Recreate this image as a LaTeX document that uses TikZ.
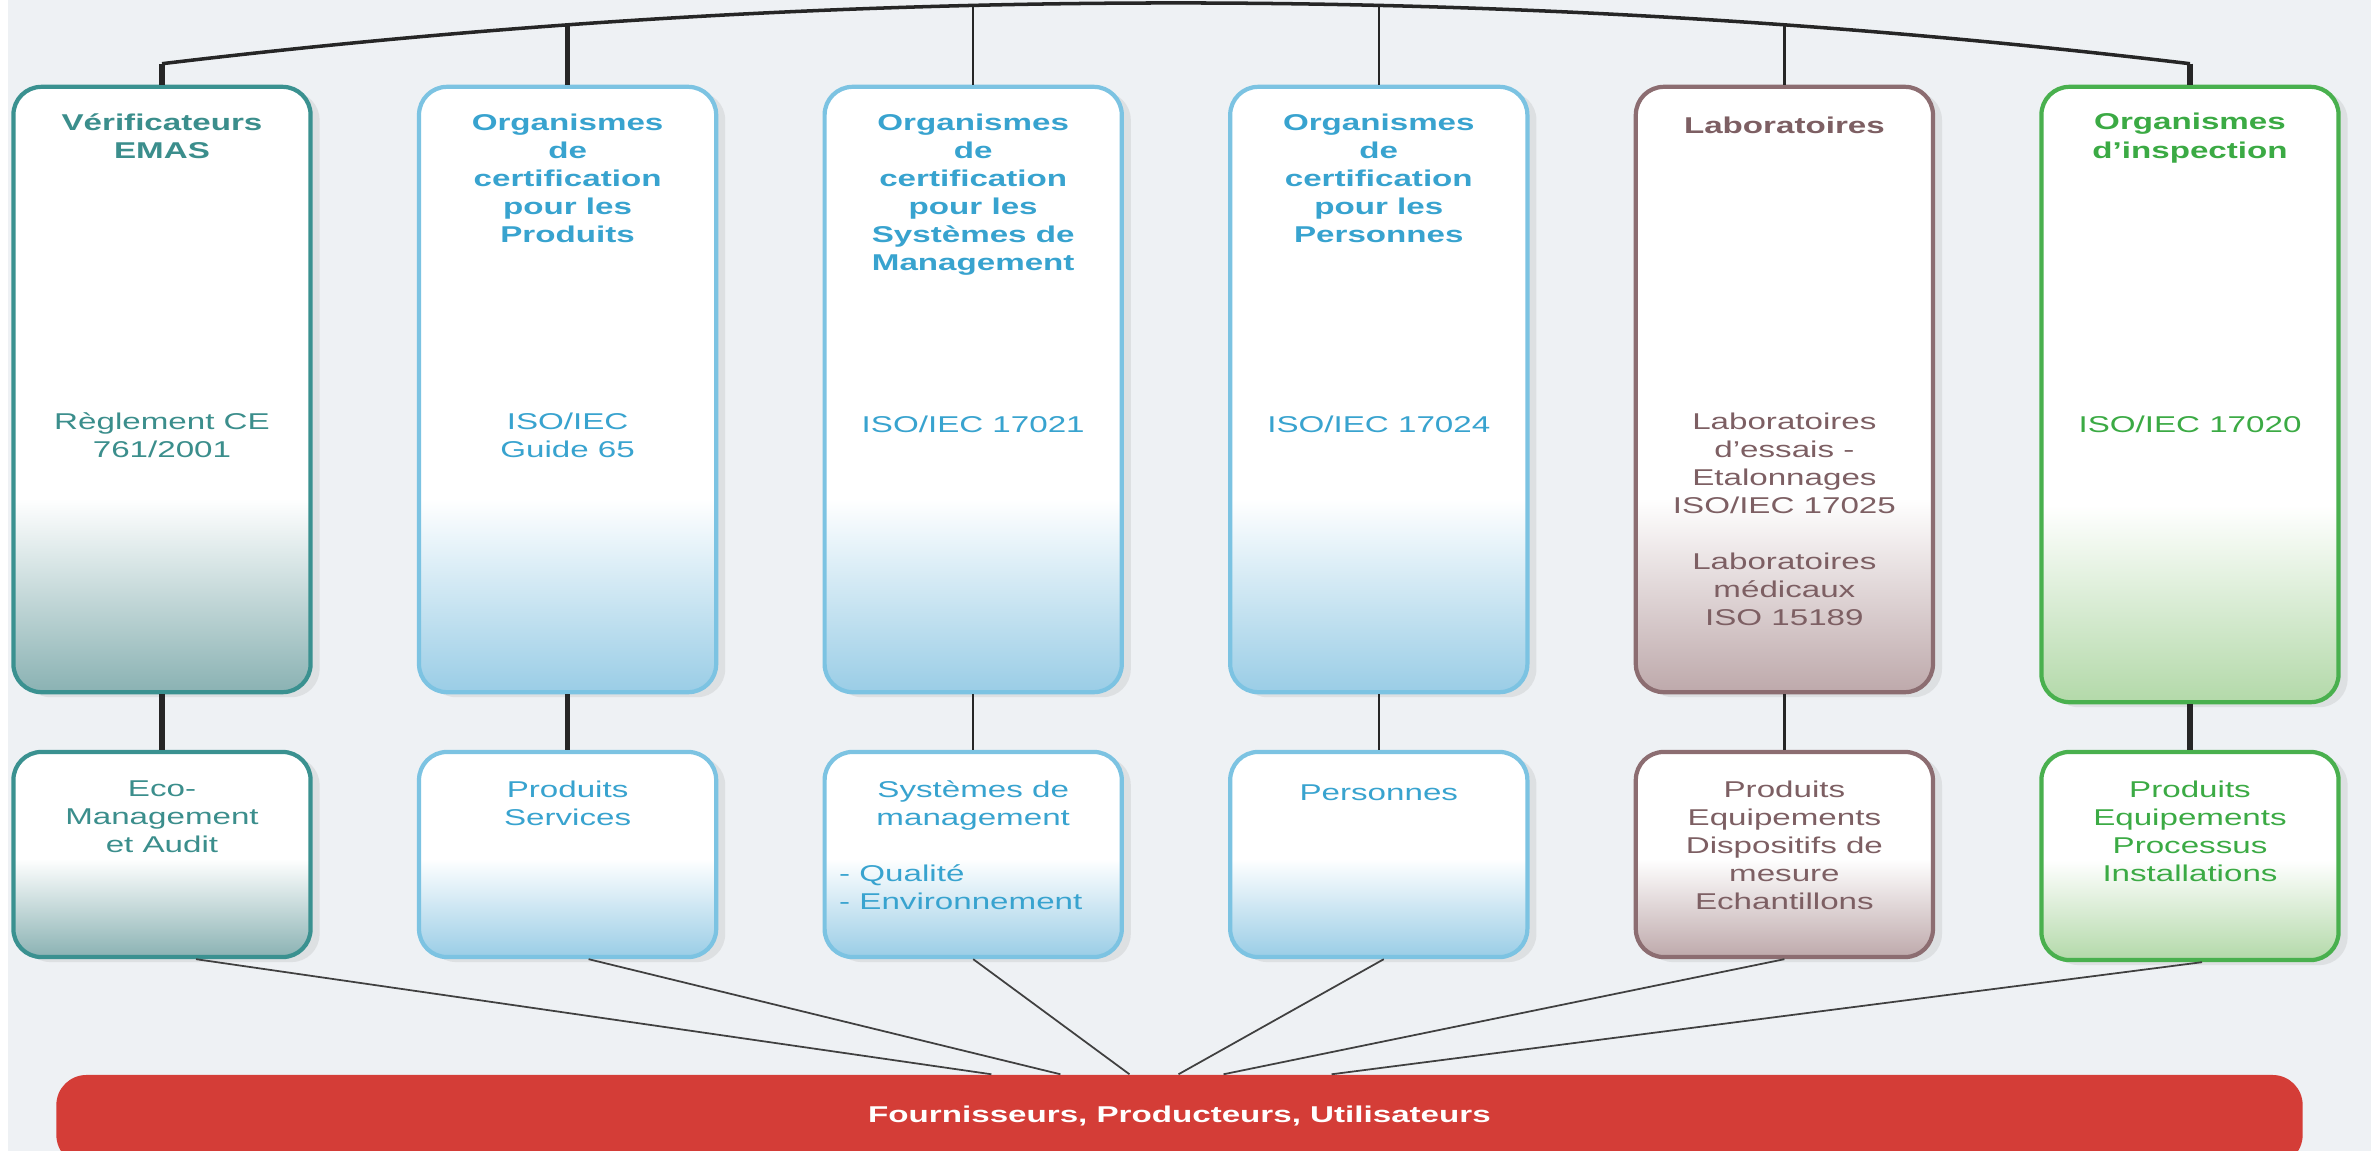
\documentclass[tikz,border=0pt]{standalone}
\usepackage{fontspec}
\setmainfont{Liberation Sans}[FakeStretch=1.45]
\usetikzlibrary{shadows}

\definecolor{bgcol}{HTML}{EEF1F4}
\definecolor{tealline}{HTML}{3A9190}
\definecolor{tealbot}{HTML}{8AB2B3}
\definecolor{tealtxt}{HTML}{3B8E8C}
\definecolor{blueline}{HTML}{7CC3E2}
\definecolor{bluebot}{HTML}{9ACDE6}
\definecolor{bluetxt}{HTML}{38A3CF}
\definecolor{brownline}{HTML}{8C6D71}
\definecolor{brownbot}{HTML}{BEA9AB}
\definecolor{browntxt}{HTML}{7D5F63}
\definecolor{greenline}{HTML}{49B04E}
\definecolor{greenbot}{HTML}{B3D9A9}
\definecolor{greentxt}{HTML}{3BAA44}
\definecolor{barred}{HTML}{D43D37}
\colorlet{fadecol}{white}

\pgfdeclareverticalshading[fadecol]{tallfade}{100bp}{color(0bp)=(fadecol); color(25bp)=(fadecol); color(41bp)=(white); color(100bp)=(white)}
\pgfdeclareverticalshading[fadecol]{lowfade}{100bp}{color(0bp)=(fadecol); color(25bp)=(fadecol); color(49bp)=(white); color(100bp)=(white)}

\tikzset{
  boxshadow/.style={drop shadow={shadow xshift=0.09cm, shadow yshift=-0.05cm, opacity=0.15}},
  orgbox/.style={draw=#1line, line width=1.2pt, rounded corners=0.28cm, minimum width=2.97cm, minimum height=6.05cm, inner sep=0pt, /utils/exec={\colorlet{fadecol}{#1bot}}, shade, shading=tallfade, boxshadow},
  domainbox/.style={draw=#1line, line width=1.2pt, rounded corners=0.28cm, minimum width=2.97cm, minimum height=2.05cm, inner sep=0pt, /utils/exec={\colorlet{fadecol}{#1bot}}, shade, shading=lowfade, boxshadow},
  ttl/.style={font=\fontsize{6.5}{8}\selectfont\bfseries, text=#1txt, align=center, anchor=north, inner sep=0pt, execute at begin node={\strut}},
  txt/.style={font=\fontsize{6.5}{8}\selectfont, text=#1txt, align=center, anchor=north, inner sep=0pt, execute at begin node={\strut}},
  thickline/.style={line width=1.5pt, black!85},
  thinline/.style={line width=0.7pt, black!85},
  feedline/.style={line width=0.5pt, black!75}
}

\begin{document}
\begin{tikzpicture}[x=0.01cm, y=-0.01cm]
  \fill[bgcol] (0,0) rectangle (2371,1151);
  \fill[white] (0,0) rectangle (8,1151);
  \useasboundingbox (0,0) rectangle (2371,1151);

  \node[orgbox=teal] (o1) at (162,389.5) {};
  \node[orgbox=blue] (o2) at (567.6,389.5) {};
  \node[orgbox=blue] (o3) at (973.2,389.5) {};
  \node[orgbox=blue] (o4) at (1378.8,389.5) {};
  \node[orgbox=brown] (o5) at (1784.4,389.5) {};
  \node[orgbox=green, minimum height=6.15cm] (o6) at (2190,394.5) {};

  \node[domainbox=teal] (d1) at (162,854.5) {};
  \node[domainbox=blue] (d2) at (567.6,854.5) {};
  \node[domainbox=blue] (d3) at (973.2,854.5) {};
  \node[domainbox=blue] (d4) at (1378.8,854.5) {};
  \node[domainbox=brown] (d5) at (1784.4,854.5) {};
  \node[domainbox=green, minimum height=2.08cm] (d6) at (2190,856) {};

  \node[ttl=teal] (t1) at ([yshift=-0.28cm]o1.north) {Vérificateurs\\EMAS};
  \node[ttl=blue] (t2) at ([yshift=-0.28cm]o2.north) {Organismes\\de\\certification\\pour les\\Produits};
  \node[ttl=blue] (t3) at ([yshift=-0.28cm]o3.north) {Organismes\\de\\certification\\pour les\\Systèmes de\\Management};
  \node[ttl=blue] (t4) at ([yshift=-0.28cm]o4.north) {Organismes\\de\\certification\\pour les\\Personnes};
  \node[ttl=brown] (t5) at ([yshift=-0.28cm]o5.north) {Laboratoires};
  \node[ttl=green] (t6) at ([yshift=-0.28cm]o6.north) {Organismes\\d’inspection};

  \node[txt=teal] (r1) at ([yshift=-3.27cm]o1.north) {Règlement CE\\761/2001};
  \node[txt=blue] (r2) at ([yshift=-3.27cm]o2.north) {ISO/IEC\\Guide 65};
  \node[txt=blue] (r3) at ([yshift=-3.27cm]o3.north) {ISO/IEC 17021};
  \node[txt=blue] (r4) at ([yshift=-3.27cm]o4.north) {ISO/IEC 17024};
  \node[txt=brown] (r5) at ([yshift=-3.27cm]o5.north) {Laboratoires\\d’essais -\\Etalonnages\\ISO/IEC 17025\\[7.9pt]Laboratoires\\médicaux\\ISO 15189};
  \node[txt=green] (r6) at ([yshift=-3.27cm]o6.north) {ISO/IEC 17020};

  \node[txt=teal] (l1) at ([yshift=-0.30cm]d1.north) {Eco-\\Management\\et Audit};
  \node[txt=blue] (l2) at ([yshift=-0.30cm]d2.north) {Produits\\Services};
  \node[txt=blue] (l3) at ([yshift=-0.30cm]d3.north) {Systèmes de\\management};
  \node[txt=blue, align=left, anchor=north west] (q3) at ([xshift=0.16cm, yshift=-1.14cm]d3.north west) {- Qualité\\- Environnement};
  \node[txt=blue] (l4) at ([yshift=-0.30cm]d4.north) {Personnes};
  \node[txt=brown] (l5) at ([yshift=-0.30cm]d5.north) {Produits\\Equipements\\Dispositifs de\\mesure\\Echantillons};
  \node[txt=green] (l6) at ([yshift=-0.30cm]d6.north) {Produits\\Equipements\\Processus\\Installations};

  \node[fill=barred, rounded corners=0.3cm, minimum width=22.45cm, minimum height=0.90cm, inner sep=0pt, text height=0.2cm, text depth=0.155cm, text=white, font=\fontsize{6.5}{8}\selectfont\bfseries] (bar) at (1179.5,1120) {Fournisseurs, Producteurs, Utilisateurs};

  \coordinate (a1) at ([yshift=0.21cm]o1.north);
  \coordinate (a6) at ([yshift=0.21cm]o6.north);
  \draw[thinline, line width=1pt] (a1) .. controls +(676,-81) and +(-676,-81) .. (a6)
    coordinate[pos=0.2] (a2) coordinate[pos=0.4] (a3) coordinate[pos=0.6] (a4) coordinate[pos=0.8] (a5);
  \draw[thickline] (a1) -- (o1.north);
  \draw[thickline] (a2) -- (a2 |- o2.north);
  \draw[thinline] (a3) -- (a3 |- o3.north);
  \draw[thinline] (a4) -- (a4 |- o4.north);
  \draw[thinline] (a5) -- (a5 |- o5.north);
  \draw[thickline] (a6) -- (o6.north);

  \draw[thickline] (o1) -- (d1);
  \draw[thickline] (o2) -- (d2);
  \draw[thinline] (o3) -- (d3);
  \draw[thinline] (o4) -- (d4);
  \draw[thinline] (o5) -- (d5);
  \draw[thickline] (o6) -- (d6);

  \draw[feedline] ([xshift=0.34cm]d1.south) -- ([xshift=-1.88cm]bar.north);
  \draw[feedline] ([xshift=0.21cm]d2.south) -- ([xshift=-1.19cm]bar.north);
  \draw[feedline] (d3.south) -- ([xshift=-0.50cm]bar.north);
  \draw[feedline] ([xshift=0.05cm]d4.south) -- ([xshift=-0.01cm]bar.north);
  \draw[feedline] (d5.south) -- ([xshift=0.44cm]bar.north);
  \draw[feedline] ([xshift=0.12cm]d6.south) -- ([xshift=1.52cm]bar.north);
\end{tikzpicture}
\end{document}
